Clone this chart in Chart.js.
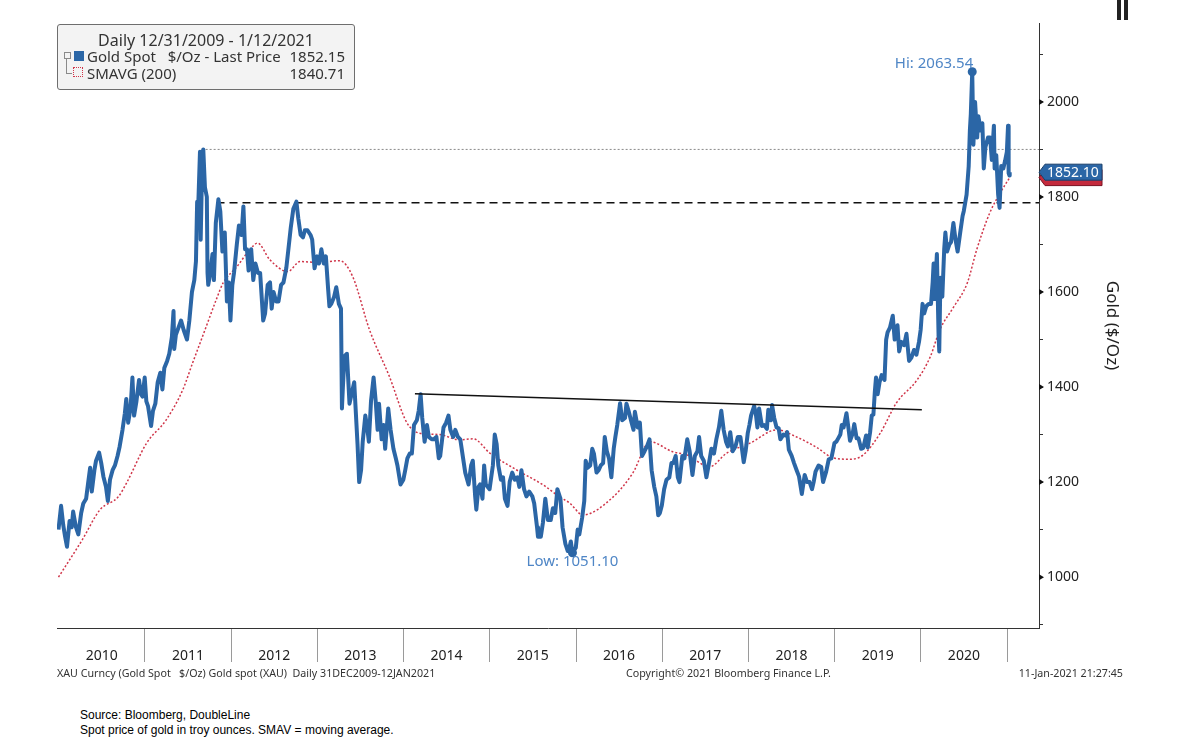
<!DOCTYPE html>
<html>
<head>
<meta charset="utf-8">
<script src="https://cdn.jsdelivr.net/npm/chart.js@4.4.1/dist/chart.umd.min.js"></script>
<style>
    body { margin: 0; background: #fff; font-family: 'Noto Sans', sans-serif; }
    #page { position: relative; width: 1190px; height: 740px; overflow: hidden; }
    #wrap { position: absolute; left: 0; top: 0; width: 1190px; height: 690px; }
    .abs { position: absolute; white-space: pre; }
    #legendBox { position: absolute; left: 57px; top: 24px; width: 298px; height: 66px; box-sizing: border-box;
                 border: 1px solid #6e6e6e; border-radius: 3px; background: #f3f3f3; }
    .lg { font-size: 15px; line-height: 18px; color: #333; }
    .lg.head { font-size: 16px; }
    .fn { font-size: 10.7px; line-height: 14px; color: #333; }
    .src { font-family: 'Liberation Sans', sans-serif; font-size: 12px; line-height: 14px; color: #000; }
</style>
</head>
<body>
<div id="page">
    <div id="wrap"><canvas id="myChart"></canvas></div>

    <div id="legendBox"></div>
    <div class="abs lg head" style="left:57px; top:31px; width:298px; text-align:center;">Daily 12/31/2009 - 1/12/2021</div>
    <div class="abs" style="left:64px; top:52px; width:5px; height:5px; border:1px solid #8a8a8a;"></div>
    <div class="abs" style="left:66px; top:59px; width:1px; height:14px; background:#8a8a8a;"></div>
    <div class="abs" style="left:66px; top:73px; width:6px; height:1px; background:#8a8a8a;"></div>
    <div class="abs" style="left:74px; top:51px; width:10px; height:10px; background:#2b66a6;"></div>
    <div class="abs" style="left:73px; top:67px; width:8px; height:8px; border:1px dotted #d0364a;"></div>
    <div class="abs lg" style="left:87px; top:47px;">Gold Spot   $/Oz - Last Price</div>
    <div class="abs lg" style="right:845px; top:47px;">1852.15</div>
    <div class="abs lg" style="left:87px; top:64px;">SMAVG (200)</div>
    <div class="abs lg" style="right:845px; top:64px;">1840.71</div>

    <div class="abs" style="left:1117px; top:0px; width:4px; height:20px; background:#222;"></div>
    <div class="abs" style="left:1124px; top:0px; width:4px; height:20px; background:#222;"></div>

    <div class="abs fn" style="left:57px; top:666px;">XAU Curncy (Gold Spot   $/Oz) Gold spot (XAU)  Daily 31DEC2009-12JAN2021</div>
    <div class="abs fn" style="left:626px; top:666px;">Copyright© 2021 Bloomberg Finance L.P.</div>
    <div class="abs fn" style="right:67px; top:666px;">11-Jan-2021 21:27:45</div>

    <div class="abs src" style="left:80px; top:708px;">Source: Bloomberg, DoubleLine</div>
    <div class="abs src" style="left:80px; top:723px;">Spot price of gold in troy ounces. SMAV = moving average.</div>
</div>

<script>
// gold spot, daily close
const goldDates = [
    '2009-12-31','2010-01-04','2010-01-11','2010-01-20','2010-01-28','2010-02-05','2010-02-16','2010-02-25','2010-03-03','2010-03-15','2010-03-25','2010-04-06','2010-04-15','2010-04-27','2010-05-06','2010-05-14','2010-05-21','2010-06-01','2010-06-08','2010-06-21','2010-06-30','2010-07-09','2010-07-20','2010-07-28','2010-08-06','2010-08-17','2010-08-27','2010-09-07','2010-09-16','2010-09-28','2010-10-08','2010-10-14','2010-10-22','2010-11-01','2010-11-09','2010-11-16','2010-11-26','2010-12-07','2010-12-15','2010-12-22','2010-12-31',
    '2011-01-07','2011-01-14','2011-01-27','2011-02-04','2011-02-14','2011-02-24','2011-03-07','2011-03-16','2011-03-24','2011-04-05','2011-04-14','2011-04-25','2011-05-02','2011-05-05','2011-05-12','2011-05-23','2011-06-03','2011-06-14','2011-06-28','2011-07-08','2011-07-19','2011-07-29','2011-08-05','2011-08-10','2011-08-12','2011-08-22','2011-08-25','2011-08-30','2011-09-05','2011-09-12','2011-09-20','2011-09-23','2011-09-26','2011-10-05','2011-10-14','2011-10-20','2011-10-28','2011-11-08','2011-11-16','2011-11-25','2011-12-05','2011-12-14','2011-12-22','2011-12-29',
    '2012-01-06','2012-01-13','2012-01-25','2012-02-03','2012-02-14','2012-02-22','2012-02-29','2012-03-08','2012-03-15','2012-03-26','2012-04-04','2012-04-13','2012-04-24','2012-05-03','2012-05-16','2012-05-24','2012-06-04','2012-06-14','2012-06-21','2012-06-29','2012-07-10','2012-07-20','2012-07-31','2012-08-10','2012-08-22','2012-08-31','2012-09-10','2012-09-21','2012-10-04','2012-10-12','2012-10-22','2012-11-01','2012-11-09','2012-11-20','2012-12-03','2012-12-10','2012-12-20','2012-12-31',
    '2013-01-08','2013-01-18','2013-01-28','2013-02-06','2013-02-15','2013-02-21','2013-03-01','2013-03-13','2013-03-22','2013-04-02','2013-04-11','2013-04-15','2013-04-19','2013-04-26','2013-05-06','2013-05-17','2013-05-28','2013-06-06','2013-06-20','2013-06-27','2013-07-05','2013-07-12','2013-07-23','2013-07-31','2013-08-07','2013-08-16','2013-08-27','2013-09-05','2013-09-13','2013-09-19','2013-09-30','2013-10-08','2013-10-15','2013-10-28','2013-11-07','2013-11-19','2013-11-29','2013-12-06','2013-12-19','2013-12-31',
    '2014-01-08','2014-01-17','2014-01-27','2014-02-05','2014-02-14','2014-02-26','2014-03-06','2014-03-14','2014-03-21','2014-03-31','2014-04-10','2014-04-18','2014-04-30','2014-05-09','2014-05-20','2014-05-30','2014-06-05','2014-06-19','2014-06-30','2014-07-10','2014-07-18','2014-07-30','2014-08-08','2014-08-19','2014-08-29','2014-09-10','2014-09-19','2014-10-03','2014-10-14','2014-10-21','2014-10-31','2014-11-05','2014-11-14','2014-11-21','2014-12-01','2014-12-08','2014-12-15','2014-12-31',
    '2015-01-07','2015-01-14','2015-01-22','2015-01-30','2015-02-06','2015-02-17','2015-02-26','2015-03-06','2015-03-17','2015-03-26','2015-04-06','2015-04-17','2015-04-28','2015-05-06','2015-05-15','2015-05-26','2015-06-05','2015-06-17','2015-06-30','2015-07-08','2015-07-20','2015-07-24','2015-08-05','2015-08-14','2015-08-24','2015-09-04','2015-09-16','2015-09-25','2015-10-05','2015-10-14','2015-10-27','2015-11-05','2015-11-17','2015-11-27','2015-12-03','2015-12-10','2015-12-17','2015-12-31',
    '2016-01-08','2016-01-15','2016-01-27','2016-02-05','2016-02-11','2016-02-19','2016-03-01','2016-03-10','2016-03-17','2016-03-28','2016-04-06','2016-04-15','2016-04-25','2016-05-02','2016-05-11','2016-05-20','2016-05-30','2016-06-09','2016-06-16','2016-06-24','2016-07-06','2016-07-15','2016-07-27','2016-08-02','2016-08-11','2016-08-24','2016-09-01','2016-09-07','2016-09-19','2016-09-28','2016-10-07','2016-10-18','2016-10-28','2016-11-08','2016-11-17','2016-11-28','2016-12-07','2016-12-15','2016-12-22','2016-12-30',
    '2017-01-09','2017-01-19','2017-01-31','2017-02-09','2017-02-17','2017-02-27','2017-03-08','2017-03-15','2017-03-27','2017-04-05','2017-04-17','2017-04-27','2017-05-09','2017-05-19','2017-05-30','2017-06-06','2017-06-15','2017-06-26','2017-07-07','2017-07-18','2017-07-28','2017-08-08','2017-08-18','2017-08-29','2017-09-08','2017-09-18','2017-09-28','2017-10-06','2017-10-16','2017-10-26','2017-11-07','2017-11-17','2017-11-28','2017-12-12','2017-12-20','2017-12-29',
    '2018-01-05','2018-01-12','2018-01-25','2018-02-01','2018-02-08','2018-02-15','2018-02-27','2018-03-08','2018-03-20','2018-03-26','2018-04-06','2018-04-11','2018-04-20','2018-04-30','2018-05-09','2018-05-16','2018-05-29','2018-06-08','2018-06-14','2018-06-21','2018-07-03','2018-07-13','2018-07-24','2018-08-03','2018-08-15','2018-08-27','2018-09-06','2018-09-17','2018-09-27','2018-10-04','2018-10-12','2018-10-25','2018-11-05','2018-11-13','2018-11-26','2018-12-07','2018-12-18','2018-12-31',
    '2019-01-08','2019-01-16','2019-01-25','2019-01-31','2019-02-08','2019-02-20','2019-02-28','2019-03-07','2019-03-18','2019-03-25','2019-04-04','2019-04-12','2019-04-23','2019-05-02','2019-05-14','2019-05-21','2019-05-31','2019-06-07','2019-06-14','2019-06-20','2019-06-25','2019-07-02','2019-07-10','2019-07-19','2019-07-31','2019-08-07','2019-08-13','2019-08-23','2019-09-04','2019-09-12','2019-09-24','2019-10-01','2019-10-10','2019-10-22','2019-11-01','2019-11-12','2019-11-22','2019-12-03','2019-12-13','2019-12-24','2019-12-31',
    '2020-01-08','2020-01-15','2020-01-24','2020-02-03','2020-02-13','2020-02-20','2020-02-24','2020-02-28','2020-03-09','2020-03-16','2020-03-19','2020-03-24','2020-04-01','2020-04-09','2020-04-14','2020-04-21','2020-05-01','2020-05-08','2020-05-18','2020-05-27','2020-06-05','2020-06-16','2020-06-26','2020-07-01','2020-07-13','2020-07-22','2020-07-27','2020-07-31','2020-08-06','2020-08-11','2020-08-18','2020-08-27','2020-09-01','2020-09-11','2020-09-18','2020-09-24','2020-10-01','2020-10-12','2020-10-21','2020-10-28','2020-11-06','2020-11-09','2020-11-16','2020-11-24','2020-11-30','2020-12-07','2020-12-16','2020-12-23','2020-12-31',
    '2021-01-05','2021-01-07','2021-01-08','2021-01-11','2021-01-12'
];
const goldPrices = [
    1100,1118,1150,1110,1085,1064,1118,1105,1138,1105,1090,1135,1155,1165,1200,1230,1180,1225,1245,1262,1240,1212,1190,1160,1205,1225,1235,1255,1275,1310,1345,1375,1325,1355,1420,1340,1370,1415,1385,1380,1420,
    1370,1360,1318,1350,1365,1410,1430,1395,1440,1455,1470,1505,1560,1480,1510,1525,1540,1520,1500,1540,1600,1625,1665,1790,1740,1895,1710,1835,1900,1820,1800,1640,1615,1640,1680,1625,1745,1795,1770,1685,1725,1580,1620,1540,
    1615,1640,1700,1740,1720,1780,1690,1690,1645,1690,1625,1660,1640,1640,1540,1555,1615,1620,1565,1600,1580,1580,1615,1620,1650,1690,1735,1775,1790,1755,1720,1715,1730,1730,1720,1710,1650,1675,
    1660,1690,1660,1675,1610,1570,1575,1590,1610,1575,1565,1355,1400,1465,1470,1365,1390,1410,1280,1200,1225,1285,1340,1315,1285,1370,1420,1370,1310,1365,1290,1320,1270,1355,1310,1270,1250,1235,1195,1205,
    1225,1250,1260,1260,1320,1330,1350,1385,1335,1285,1320,1295,1290,1290,1295,1250,1255,1315,1325,1340,1310,1295,1310,1295,1290,1250,1220,1195,1235,1245,1170,1142,1190,1195,1165,1235,1195,1185,
    1210,1235,1300,1280,1235,1205,1210,1165,1150,1200,1220,1205,1210,1190,1225,1185,1170,1180,1170,1155,1105,1085,1085,1115,1165,1120,1120,1145,1135,1185,1165,1105,1070,1055,1060,1075,1051.10,1062,
    1100,1090,1125,1160,1245,1230,1235,1270,1260,1220,1225,1235,1240,1295,1265,1250,1210,1270,1295,1320,1366,1330,1335,1365,1350,1325,1310,1348,1315,1325,1255,1265,1275,1290,1225,1190,1170,1130,1135,1150,
    1185,1205,1210,1240,1240,1255,1210,1200,1255,1250,1290,1265,1215,1255,1265,1295,1255,1245,1210,1240,1270,1260,1290,1315,1350,1310,1285,1275,1305,1265,1275,1295,1295,1242,1265,1303,
    1320,1340,1360,1345,1315,1355,1318,1320,1312,1352,1330,1362,1335,1315,1313,1290,1300,1298,1305,1268,1255,1240,1225,1212,1175,1215,1200,1200,1185,1200,1222,1235,1232,1200,1222,1248,1250,1282,
    1285,1292,1300,1320,1315,1345,1315,1287,1302,1322,1292,1292,1270,1272,1298,1273,1305,1340,1342,1390,1420,1385,1410,1425,1415,1500,1515,1525,1550,1500,1530,1475,1495,1488,1512,1455,1462,1478,1468,1495,1520,
    1575,1555,1570,1575,1575,1620,1660,1585,1680,1510,1475,1630,1590,1690,1725,1685,1700,1705,1745,1710,1685,1725,1760,1770,1805,1865,1940,1975,2063.54,1910,2000,1925,1970,1940,1955,1860,1905,1925,1925,1878,1950,1860,1888,1805,1777,1865,1860,1875,1895,
    1950,1915,1850,1845,1852.10
];

// SMAVG (200)
const smaDates = [
    '2009-12-31','2010-04-10','2010-06-25','2010-09-10','2010-10-15','2011-01-08','2011-04-01','2011-06-10','2011-07-22','2011-09-12','2011-10-30','2011-11-28',
    '2012-01-25','2012-03-20','2012-04-22','2012-06-13','2012-08-29','2012-10-19','2013-01-12','2013-04-05','2013-05-30','2013-08-10','2013-11-02',
    '2014-01-15','2014-03-10','2014-06-02','2014-08-25','2014-10-23','2015-01-01','2015-04-23','2015-08-15','2015-10-23','2015-12-05','2016-01-30',
    '2016-06-07','2016-08-29','2016-11-10','2017-02-14','2017-04-17','2017-07-20','2017-10-01','2018-01-08','2018-05-01','2018-07-24','2018-10-20','2018-12-25',
    '2019-03-08','2019-05-01','2019-07-13','2019-09-20','2019-12-16','2020-02-10','2020-03-22','2020-05-20','2020-07-16','2020-08-25','2020-10-19','2020-12-02','2021-01-12'
];
const smaValues = [
    1000,1078,1142,1169,1198,1282,1331,1394,1451,1520,1584,1619,
    1653,1689,1703,1668,1643,1664,1662,1666,1633,1520,1422,
    1325,1303,1300,1289,1291,1261,1226,1194,1169,1156,1131,
    1169,1219,1285,1264,1257,1232,1261,1282,1310,1295,1272,1251,
    1248,1257,1303,1367,1415,1464,1521,1569,1619,1689,1766,1808,1840.71
];

// horizontal levels and trend line drawn on the chart
const topLevel = { from: '2011-08-29', value: 1900 };
const breakLevel = { from: '2011-10-31', value: 1788 };
const trendLine = { dates: ['2014-02-18', '2020-01-05'], values: [1386, 1352] };

const hiPoint = { date: '2020-08-06', value: 2063.54, label: 'Hi: 2063.54' };
const lowPoint = { date: '2015-12-17', value: 1051.10, label: 'Low: 1051.10' };
const lastGold = { value: 1852.10, label: '1852.10' };
const lastSma = 1840.71;

const yearTicks = [2010, 2011, 2012, 2013, 2014, 2015, 2016, 2017, 2018, 2019, 2020, 2021];
const priceTicks = [900, 1000, 1100, 1200, 1300, 1400, 1500, 1600, 1700, 1800, 1900, 2000, 2100];

const xMin = 2009.98, xMax = 2021.37;
const yMin = 893, yMax = 2166;

const BLUE = '#2b66a6';
const RED = '#d0364a';

function toYear(s) {
    const [y, m, d] = s.split('-').map(Number);
    const start = Date.UTC(y, 0, 1), end = Date.UTC(y + 1, 0, 1);
    return y + (Date.UTC(y, m - 1, d) - start) / (end - start);
}

const goldPoints = goldDates.map((d, i) => ({ x: toYear(d), y: goldPrices[i] }));
const smaPoints = smaDates.map((d, i) => ({ x: toYear(d), y: smaValues[i] }));

const extras = {
    id: 'extras',
    afterDatasetsDraw(chart) {
        const { ctx, scales: { x, y } } = chart;
        ctx.save();
        ctx.fillStyle = BLUE;
        [hiPoint, lowPoint].forEach(p => {
            ctx.beginPath();
            ctx.arc(x.getPixelForValue(toYear(p.date)), y.getPixelForValue(p.value), 4.5, 0, Math.PI * 2);
            ctx.fill();
        });
        ctx.font = "15px 'Noto Sans', sans-serif";
        ctx.fillStyle = '#4f86c6';
        ctx.textAlign = 'right';
        ctx.textBaseline = 'alphabetic';
        ctx.fillText(hiPoint.label, x.getPixelForValue(toYear(hiPoint.date)) + 1, y.getPixelForValue(hiPoint.value) - 4);
        ctx.textAlign = 'center';
        ctx.textBaseline = 'top';
        ctx.fillText(lowPoint.label, x.getPixelForValue(toYear(lowPoint.date)), y.getPixelForValue(lowPoint.value) + 1);
        ctx.restore();
    },
    afterDraw(chart) {
        const { ctx, scales: { y } } = chart;
        ctx.save();
        // little arrow heads on the major price ticks
        ctx.fillStyle = '#111';
        priceTicks.filter(v => v % 200 === 0).forEach(v => {
            const py = y.getPixelForValue(v);
            ctx.beginPath();
            ctx.moveTo(y.left, py - 3);
            ctx.lineTo(y.left + 5, py);
            ctx.lineTo(y.left, py + 3);
            ctx.closePath();
            ctx.fill();
        });
        // last value tags on the axis
        const tag = (value, fill, stroke) => {
            const py = y.getPixelForValue(value);
            const x0 = y.left;
            ctx.beginPath();
            ctx.moveTo(x0, py);
            ctx.lineTo(x0 + 6, py - 8);
            ctx.lineTo(x0 + 63, py - 8);
            ctx.lineTo(x0 + 63, py + 8);
            ctx.lineTo(x0 + 6, py + 8);
            ctx.closePath();
            ctx.fillStyle = fill;
            ctx.fill();
            ctx.strokeStyle = stroke;
            ctx.lineWidth = 1;
            ctx.stroke();
            return py;
        };
        tag(lastSma, '#c42a3c', '#7a1020');
        const py = tag(lastGold.value, BLUE, '#1a3f6a');
        ctx.fillStyle = '#fff';
        ctx.font = "14px 'Noto Sans', sans-serif";
        ctx.textAlign = 'left';
        ctx.textBaseline = 'middle';
        ctx.fillText(lastGold.label, y.left + 8, py + 1);
        ctx.restore();
    }
};

Chart.defaults.font.family = "'Noto Sans', sans-serif";
Chart.defaults.color = '#222';

const ctx = document.getElementById('myChart');

new Chart(ctx, {
    type: 'line',
    data: {
        datasets: [
            {
                label: 'Trend',
                data: trendLine.dates.map((d, i) => ({ x: toYear(d), y: trendLine.values[i] })),
                borderColor: '#111',
                borderWidth: 1.5,
            },
            {
                label: 'Gold Spot',
                data: goldPoints,
                borderColor: BLUE,
                borderWidth: 4,
                borderJoinStyle: 'round',
            },
            {
                label: 'Break level',
                data: [{ x: toYear(breakLevel.from), y: breakLevel.value }, { x: xMax, y: breakLevel.value }],
                borderColor: '#111',
                borderWidth: 1.5,
                borderDash: [8, 5],
            },
            {
                label: 'Top level',
                data: [{ x: toYear(topLevel.from), y: topLevel.value }, { x: xMax, y: topLevel.value }],
                borderColor: '#8a8a8a',
                borderWidth: 1,
                borderDash: [2, 2],
            },
            {
                label: 'SMAVG (200)',
                data: smaPoints,
                borderColor: RED,
                borderWidth: 1.5,
                borderDash: [2, 2],
                cubicInterpolationMode: 'monotone',
            }
        ]
    },
    options: {
        responsive: true,
        maintainAspectRatio: false,
        animation: false,
        events: [],
        layout: { padding: { left: 57, top: 23, right: 0, bottom: 0 } },
        elements: { point: { radius: 0 }, line: { tension: 0 } },
        plugins: {
            legend: { display: false },
            tooltip: { enabled: false },
        },
        scales: {
            x: {
                type: 'linear',
                position: 'bottom',
                min: xMin,
                max: xMax,
                afterBuildTicks: (axis) => { axis.ticks = yearTicks.map(v => ({ value: v })); },
                afterFit: (axis) => { axis.height = 62; },
                ticks: {
                    autoSkip: false,
                    maxRotation: 0,
                    labelOffset: 43,
                    padding: -14,
                    font: { size: 14 },
                    color: '#222',
                    callback: (v) => v <= 2020 ? String(v) : '',
                },
                grid: {
                    drawOnChartArea: false,
                    tickLength: 34,
                    color: (c) => c.tick && c.tick.value === 2010 ? 'rgba(0,0,0,0)' : '#9a9a9a',
                },
                border: { display: true, color: '#333', width: 1 },
            },
            y: {
                position: 'right',
                min: yMin,
                max: yMax,
                afterBuildTicks: (axis) => { axis.ticks = priceTicks.map(v => ({ value: v })); },
                afterFit: (axis) => { axis.width = 151; },
                ticks: {
                    padding: 4,
                    font: { size: 14 },
                    color: '#222',
                    callback: (v) => v % 200 === 0 ? String(v) : '',
                },
                grid: {
                    drawOnChartArea: false,
                    tickLength: 4,
                    color: '#333',
                },
                border: { display: true, color: '#333', width: 1 },
                title: {
                    display: true,
                    text: 'Gold ($/Oz)',
                    font: { size: 17 },
                    color: '#222',
                    padding: { top: 68, bottom: 0 },
                },
            }
        }
    },
    plugins: [extras]
});
</script>
</body>
</html>
